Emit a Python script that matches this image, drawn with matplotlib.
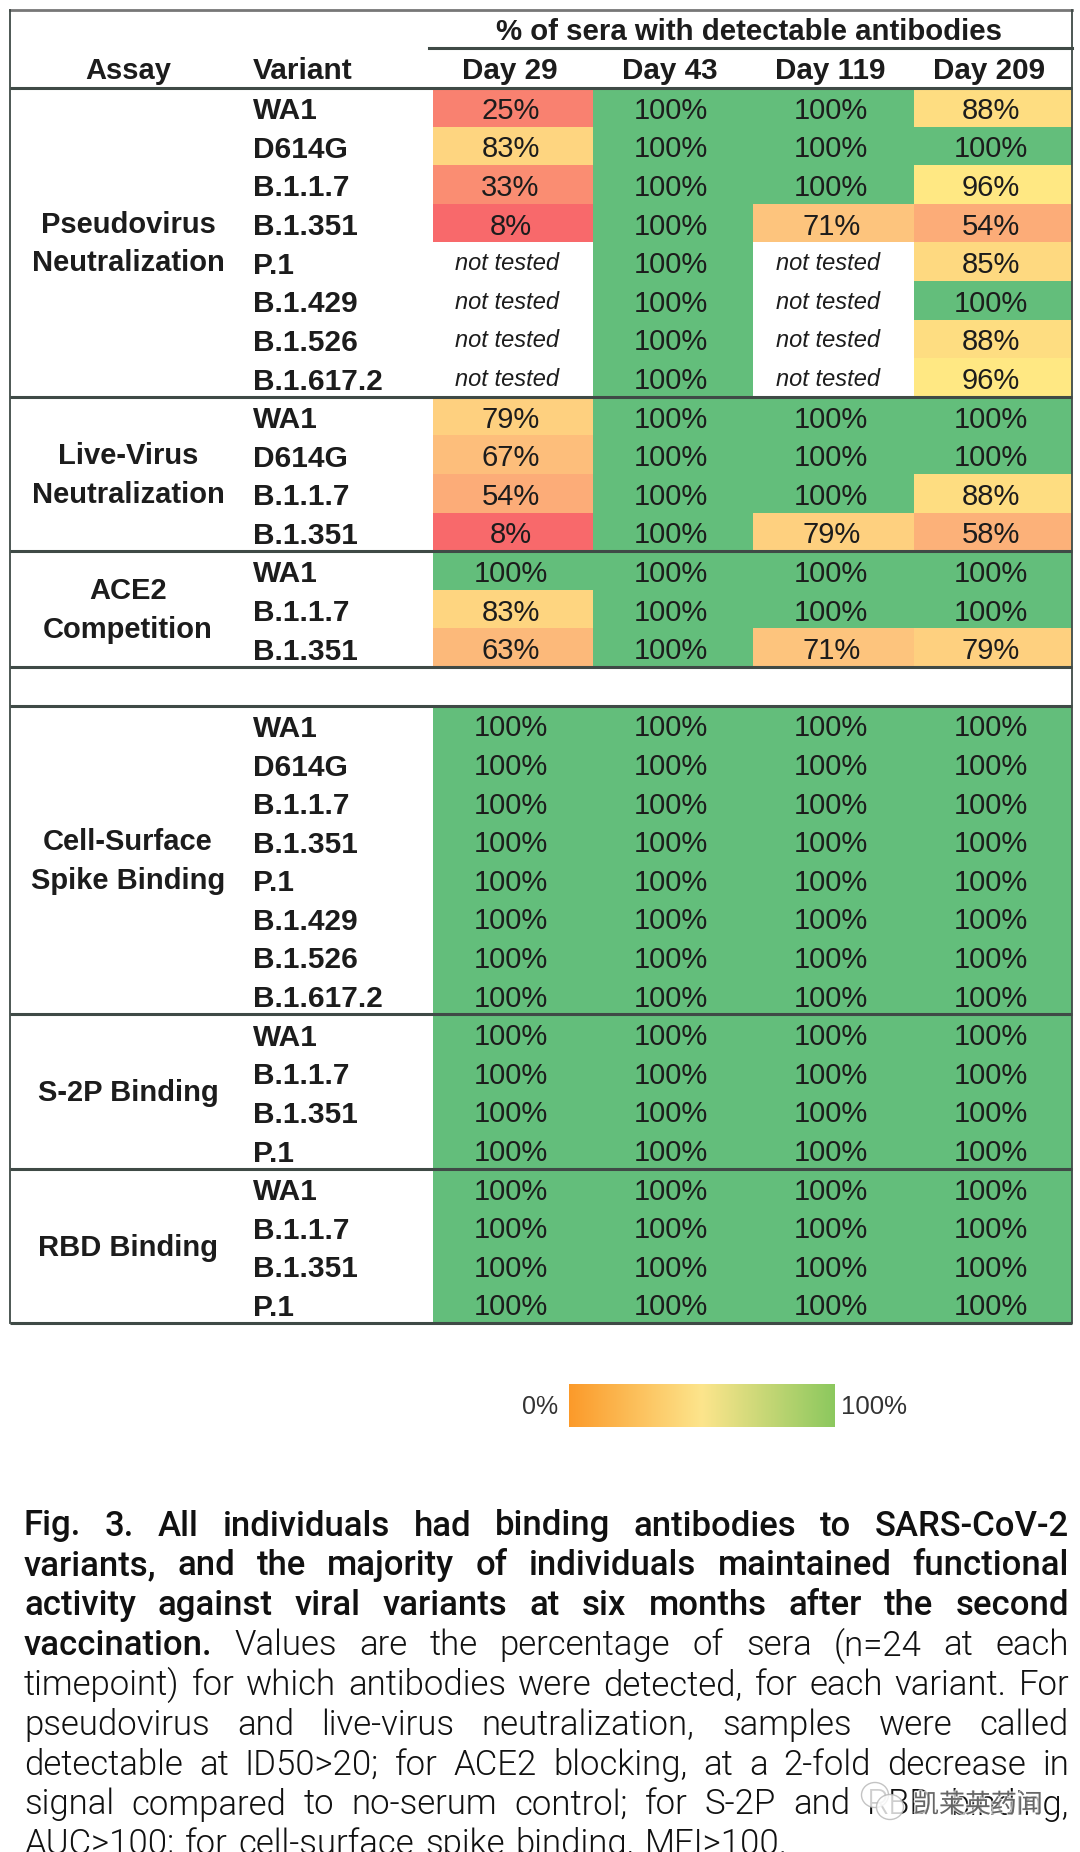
#!/usr/bin/env python3
import numpy as np
import matplotlib
matplotlib.use("Agg")
import matplotlib.pyplot as plt
import matplotlib.patheffects as pe
from matplotlib.colors import LinearSegmentedColormap, Normalize
from matplotlib.patches import Ellipse

plt.rcParams["font.family"] = ["Liberation Sans", "DejaVu Sans"]

NT = None  # not tested

days = ["Day 29", "Day 43", "Day 119", "Day 209"]

pseudo_names = ["WA1", "D614G", "B.1.1.7", "B.1.351", "P.1", "B.1.429", "B.1.526", "B.1.617.2"]
pseudo_vals = [[25, 100, 100, 88], [83, 100, 100, 100], [33, 100, 100, 96], [8, 100, 71, 54],
               [NT, 100, NT, 85], [NT, 100, NT, 100], [NT, 100, NT, 88], [NT, 100, NT, 96]]

live_names = ["WA1", "D614G", "B.1.1.7", "B.1.351"]
live_vals = [[79, 100, 100, 100], [67, 100, 100, 100], [54, 100, 100, 88], [8, 100, 79, 58]]

ace2_names = ["WA1", "B.1.1.7", "B.1.351"]
ace2_vals = [[100, 100, 100, 100], [83, 100, 100, 100], [63, 100, 71, 79]]

cell_names = ["WA1", "D614G", "B.1.1.7", "B.1.351", "P.1", "B.1.429", "B.1.526", "B.1.617.2"]
cell_vals = [[100, 100, 100, 100]] * 8

s2p_names = ["WA1", "B.1.1.7", "B.1.351", "P.1"]
s2p_vals = [[100, 100, 100, 100]] * 4

rbd_names = ["WA1", "B.1.1.7", "B.1.351", "P.1"]
rbd_vals = [[100, 100, 100, 100]] * 4

groups = [
    (["Pseudovirus", "Neutralization"], pseudo_names, pseudo_vals),
    (["Live-Virus", "Neutralization"], live_names, live_vals),
    (["ACE2", "Competition"], ace2_names, ace2_vals),
    None,  # blank spacer row
    (["Cell-Surface", "Spike Binding"], cell_names, cell_vals),
    (["S-2P Binding"], s2p_names, s2p_vals),
    (["RBD Binding"], rbd_names, rbd_vals),
]

caption = [
    ("Fig. 3. All individuals had binding antibodies to SARS-CoV-2", True, True),
    ("variants, and the majority of individuals maintained functional", True, True),
    ("activity against viral variants at six months after the second", True, True),
    ("vaccination.| Values are the percentage of sera (n=24 at each", True, True),
    ("timepoint) for which antibodies were detected, for each variant. For", False, True),
    ("pseudovirus and live-virus neutralization, samples were called", False, True),
    ("detectable at ID50>20; for ACE2 blocking, at a 2-fold decrease in", False, True),
    ("signal compared to no-serum control; for S-2P and RBD binding,", False, True),
    ("AUC>100; for cell-surface spike binding, MFI>100.", False, False),
]

# layout, in picture pixels
LEFT, RIGHT = 10, 1072
TOP, HEAD_LINE, HEAD_BOTTOM = 10, 48, 88
ROW_H = 38.6
COL_EDGES = [433, 593, 753.4, 914, 1072]
LINE_COLOR = "#3f4a46"
TEXT = "#1c1c1c"

score_cmap = LinearSegmentedColormap.from_list(
    "score", [(0.0, "#F8696B"), (0.978, "#FFEB84"), (1.0, "#63BE7B")])
score_norm = Normalize(8, 100)
legend_cmap = LinearSegmentedColormap.from_list("legend", ["#FB9A2A", "#FDE58C", "#8CC85E"])

fig = plt.figure(figsize=(10.8, 18.52), dpi=100)
ax = fig.add_axes([0, 0, 1, 1])
ax.set_xlim(0, 1080)
ax.set_ylim(1852, 0)
ax.axis("off")

# flatten rows so the heat cells go through one mesh
matrix = []
for g in groups:
    if g is None:
        matrix.append([NT] * 4)
    else:
        matrix.extend(g[2])
matrix = np.array(matrix, dtype=float)
row_edges = HEAD_BOTTOM + ROW_H * np.arange(len(matrix) + 1)
ax.pcolormesh(COL_EDGES, row_edges, np.ma.masked_invalid(matrix), cmap=score_cmap, norm=score_norm, zorder=1)

# header
col_mid = [(a + b) / 2 for a, b in zip(COL_EDGES[:-1], COL_EDGES[1:])]
ax.text(749, 32, "% of sera with detectable antibodies",
        fontsize=21.2, fontweight="bold", ha="center", va="center", color=TEXT)
ax.text(128, 71, "Assay", fontsize=21, fontweight="bold", ha="center", va="center", color=TEXT)
ax.text(253, 71, "Variant", fontsize=21.5, fontweight="bold", ha="left", va="center", color=TEXT)
for x, d in zip(col_mid, days):
    ax.text(x - 3.5, 71, d, fontsize=21.3, fontweight="bold", ha="center", va="center", color=TEXT)

# body
line_ys = [HEAD_BOTTOM]
row = 0
for g in groups:
    if g is None:
        row += 1
        line_ys.append(HEAD_BOTTOM + row * ROW_H)
        continue
    labels, names, vals = g
    group_mid = HEAD_BOTTOM + (row + len(names) / 2) * ROW_H + 1.5
    for i, lab in enumerate(labels):
        off = (i - (len(labels) - 1) / 2) * 38.6
        ax.text(128, group_mid + off, lab, fontsize=21, fontweight="bold", ha="center", va="center", color=TEXT)
    for name, rv in zip(names, vals):
        y = HEAD_BOTTOM + (row + 0.5) * ROW_H
        ax.text(253, y + 4, name, fontsize=21.5, fontweight="bold", ha="left", va="center", color=TEXT)
        for x, v in zip(col_mid, rv):
            if v is None:
                ax.text(x - 6, y + 2, "not tested", fontsize=17, style="italic", ha="center", va="center", color=TEXT)
            else:
                ax.text(x - 2.5, y + 3.5, f"{v}%", fontsize=21, ha="center", va="center", color=TEXT)
        row += 1
    line_ys.append(HEAD_BOTTOM + row * ROW_H)

for y in line_ys:
    ax.plot([LEFT, RIGHT], [y, y], color=LINE_COLOR, lw=2.2, zorder=3, solid_capstyle="butt")
ax.plot([COL_EDGES[0] - 4, RIGHT], [HEAD_LINE, HEAD_LINE], color=LINE_COLOR, lw=2.2, zorder=3)
ax.plot([LEFT, RIGHT], [TOP, TOP], color="#777777", lw=2, zorder=3)
ax.plot([LEFT, LEFT], [TOP, line_ys[-1]], color=LINE_COLOR, lw=1.3, zorder=3)
ax.plot([RIGHT, RIGHT], [TOP, line_ys[-1]], color=LINE_COLOR, lw=1.3, zorder=3)

# legend bar
ax.imshow(np.linspace(0, 1, 256).reshape(1, -1), cmap=legend_cmap, extent=(569, 835, 1427, 1384),
          aspect="auto", zorder=1)
ax.set_xlim(0, 1080)
ax.set_ylim(1852, 0)
ax.text(558, 1407, "0%", fontsize=18, ha="right", va="center", color="#333333")
ax.text(841, 1407, "100%", fontsize=18.5, ha="left", va="center", color="#333333")

# caption, justified word by word
CAP_X0, CAP_X1 = 24, 1069
CAP_Y0, CAP_DY = 1526, 39.8
CAP_FONT = "Roboto"
CAP_SIZE = 25
renderer = fig.canvas.get_renderer()


def word_width(word, weight):
    t = ax.text(0, 0, word, fontsize=CAP_SIZE, family=CAP_FONT, fontweight=weight)
    w = t.get_window_extent(renderer).width
    t.remove()
    return w


for i, (line, bold, justify) in enumerate(caption):
    y = CAP_Y0 + i * CAP_DY
    words = []
    weight = 500 if bold else 300
    for w in line.split(" "):
        if w.endswith("|"):
            words.append((w[:-1], weight))
            weight = 300
        else:
            words.append((w, weight))
    widths = [word_width(w, wt) for w, wt in words]
    gap = (CAP_X1 - CAP_X0 - sum(widths)) / (len(words) - 1) if justify else 11.0
    x = CAP_X0
    for (w, wt), wd in zip(words, widths):
        ax.text(x, y, w, fontsize=CAP_SIZE, family=CAP_FONT, fontweight=wt, ha="left", va="center",
                color="#111111", clip_on=True)
        x += wd + gap

# watermark over the caption
for cx, cy in [(875, 1795), (890, 1807)]:
    ax.add_patch(Ellipse((cx, cy), 27, 25, facecolor="white", edgecolor="#b5b5b5", lw=1, alpha=0.8, zorder=5))
ax.text(978, 1805, "凯莱英药闻", fontsize=18.7, family=["Noto Sans CJK SC", "DejaVu Sans"], ha="center", va="center",
        color="#666666", zorder=6, path_effects=[pe.withStroke(linewidth=2, foreground="white", alpha=0.7)])

fig.savefig("out.png", dpi=100)
